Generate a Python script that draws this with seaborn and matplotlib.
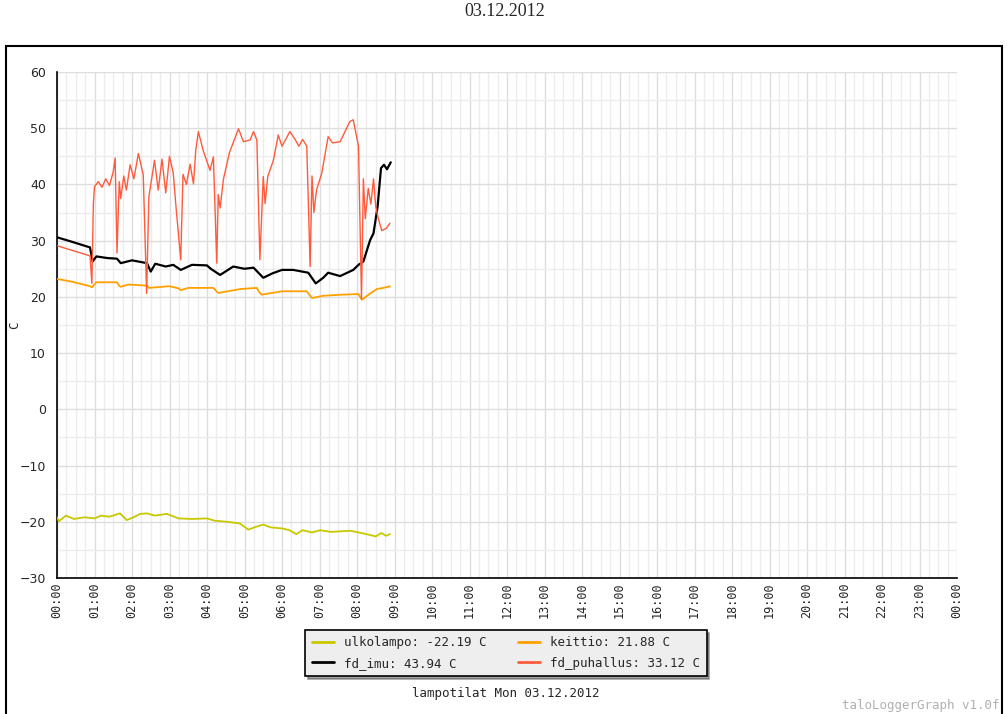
import numpy as np
import pandas as pd
import seaborn as sns
import matplotlib.pyplot as plt
from matplotlib.lines import Line2D
from matplotlib.patches import Rectangle
from matplotlib.ticker import MultipleLocator, FixedLocator

# Data (tunnit 0-24, lampotila C), luettu kuvasta
ulko_h = [0.0, 0.05, 0.24, 0.45, 0.73, 1.0, 1.18, 1.4, 1.68, 1.86, 2.04, 2.22, 2.4, 2.6,
          2.93, 3.24, 3.6, 4.0, 4.2, 4.53, 4.88, 5.1, 5.3, 5.5, 5.7, 6.02, 6.2, 6.38,
          6.55, 6.8, 7.02, 7.3, 7.55, 7.82, 8.05, 8.25, 8.5, 8.65, 8.78, 8.88]
ulko_t = [-19.2, -19.9, -18.9, -19.5, -19.2, -19.4, -18.9, -19.1, -18.5, -19.7, -19.2, -18.6,
          -18.5, -18.9, -18.6, -19.4, -19.5, -19.4, -19.8, -20.0, -20.3, -21.4, -20.9,
          -20.5, -21.0, -21.2, -21.5, -22.2, -21.5, -21.9, -21.5, -21.8, -21.7, -21.6,
          -21.9, -22.2, -22.6, -22.0, -22.5, -22.19]

keittio_h = [0.0, 0.4, 0.88, 0.93, 1.05, 1.6, 1.65, 1.7, 1.9, 2.4, 2.45, 3.0, 3.25, 3.3, 3.5,
             4.17, 4.25, 4.3, 4.9, 5.33, 5.4, 5.46, 6.0, 6.66, 6.75, 6.8, 7.1, 7.6, 8.04,
             8.13, 8.35, 8.53, 8.7, 8.88]
keittio_t = [23.2, 22.7, 21.9, 21.7, 22.6, 22.6, 22.0, 21.8, 22.2, 22.0, 21.6, 21.9, 21.5,
             21.2, 21.6, 21.6, 21.0, 20.7, 21.4, 21.6, 20.8, 20.4, 21.0, 21.0, 20.2, 19.8,
             20.2, 20.4, 20.5, 19.5, 20.6, 21.4, 21.6, 21.88]

imu_h = [0.0, 0.4, 0.88, 0.95, 1.05, 1.35, 1.6, 1.7, 2.0, 2.4, 2.5, 2.62, 2.9, 3.1, 3.3,
         3.6, 4.0, 4.1, 4.35, 4.7, 5.0, 5.24, 5.5, 5.75, 6.0, 6.3, 6.7, 6.9, 7.1, 7.23, 7.55,
         7.9, 8.04, 8.17, 8.35, 8.44, 8.55, 8.64, 8.72, 8.8, 8.9]
imu_t = [30.6, 29.8, 28.8, 26.3, 27.2, 26.9, 26.8, 26.0, 26.5, 26.0, 24.5, 25.9, 25.4, 25.7,
         24.8, 25.7, 25.6, 25.0, 23.9, 25.4, 25.0, 25.2, 23.4, 24.2, 24.8, 24.8, 24.3, 22.4,
         23.4, 24.3, 23.7, 24.8, 25.7, 26.3, 30.1, 31.3, 36.1, 42.9, 43.5, 42.7, 43.94]

puh_h = [0.0, 0.88, 0.93, 0.97, 1.0, 1.1, 1.2, 1.3, 1.4, 1.5, 1.55, 1.6, 1.66, 1.7, 1.78,
         1.85, 1.95, 2.05, 2.17, 2.3, 2.39, 2.45, 2.6, 2.7, 2.8, 2.9, 3.0, 3.1, 3.18, 3.3,
         3.36, 3.45, 3.55, 3.64, 3.7, 3.77, 3.9, 4.08, 4.17, 4.26, 4.3, 4.35, 4.44, 4.6,
         4.84, 4.97, 5.15, 5.24, 5.33, 5.41, 5.5, 5.55, 5.62, 5.77, 5.9, 6.0, 6.21, 6.35,
         6.45, 6.55, 6.66, 6.75, 6.8, 6.85, 6.92, 7.06, 7.23, 7.35, 7.55, 7.81, 7.9, 8.04,
         8.12, 8.17, 8.22, 8.3, 8.37, 8.44, 8.5, 8.57, 8.66, 8.78, 8.88]
puh_t = [29.1, 27.3, 22.4, 36.6, 39.6, 40.5, 39.5, 41.0, 39.8, 42.3, 44.7, 27.8, 40.5, 37.5,
         41.5, 39.0, 43.5, 41.0, 45.5, 41.7, 20.6, 37.8, 44.3, 39.0, 44.5, 38.5, 45.0, 42.0,
         35.5, 26.6, 41.8, 40.0, 43.6, 40.1, 46.1, 49.4, 46.0, 42.5, 44.9, 26.0, 38.2, 35.8,
         41.0, 45.7, 49.9, 47.6, 47.9, 49.4, 47.9, 26.6, 41.4, 36.6, 41.4, 44.3, 48.8, 46.8,
         49.4, 48.0, 46.8, 48.0, 46.8, 25.4, 41.5, 35.0, 39.0, 42.0, 48.5, 47.4, 47.6, 51.2,
         51.5, 46.8, 19.6, 41.0, 33.9, 39.3, 36.5, 41.0, 36.0, 33.9, 31.8, 32.2, 33.12]

names = ['ulkolampo', 'keittio', 'fd_imu', 'fd_puhallus']
colors = ['#c8c800', '#ffa000', '#000000', '#ff5a3c']
widths = [1.3, 1.3, 1.6, 1.0]
last_vals = ['-22.19', '21.88', '43.94', '33.12']

x_ticks = list(range(0, 25))
x_labels = ['%02d:00' % (h % 24) for h in x_ticks]

fig = plt.figure(figsize=(10.08, 7.14), dpi=100)
sns.set_style('white')
ax = fig.add_axes([57 / 1008, 1 - 578 / 714, 900 / 1008, 506 / 714])

series = [(ulko_h, ulko_t), (keittio_h, keittio_t), (imu_h, imu_t), (puh_h, puh_t)]
for (hh, tt), nm, col, lw in zip(series, names, colors, widths):
    df = pd.DataFrame({'h': hh, 't': tt})
    sns.lineplot(data=df, x='h', y='t', color=col, linewidth=lw, ax=ax,
                 estimator=None, sort=False, zorder=3)

ax.set_xlim(0, 24)
ax.set_ylim(-30, 60)
ax.xaxis.set_major_locator(FixedLocator(x_ticks))
ax.xaxis.set_minor_locator(MultipleLocator(0.25))
ax.yaxis.set_major_locator(MultipleLocator(10))
ax.yaxis.set_minor_locator(MultipleLocator(5))
ax.set_xticklabels(x_labels, rotation=90, family='DejaVu Sans Mono', fontsize=8.5)
ax.tick_params(axis='y', labelsize=9, pad=8)
ax.tick_params(which='major', direction='in', length=6, width=1, color='black')
ax.tick_params(which='minor', direction='in', length=4, width=1, color='black')
ax.grid(which='major', color='#dddddd', linewidth=1)
ax.grid(which='minor', color='#ececec', linewidth=1)
ax.set_axisbelow(True)
for s in ['top', 'right']:
    ax.spines[s].set_visible(False)
for s in ['left', 'bottom']:
    ax.spines[s].set_color('black')
    ax.spines[s].set_linewidth(1.2)
ax.set_xlabel('')
ax.set_ylabel('')
fig.text(15 / 1008, 1 - 325 / 714, 'C', rotation=90, ha='center', va='center',
         family='DejaVu Sans Mono', fontsize=9)

# legenda
handles = [Line2D([], [], color=c, linewidth=2) for c in colors]
labels = ['%s: %s C' % (n, v) for n, v in zip(names, last_vals)]
order = [0, 2, 1, 3]
leg = fig.legend([handles[i] for i in order], [labels[i] for i in order], ncol=2,
                 loc='center', bbox_to_anchor=(506 / 1008, 1 - 653 / 714),
                 prop={'family': 'DejaVu Sans Mono', 'size': 9}, frameon=True,
                 fancybox=False, shadow=True, facecolor='#eeeeee', edgecolor='black',
                 framealpha=1, handlelength=1.8, columnspacing=2.5, borderpad=0.5,
                 labelspacing=0.6)
leg.get_frame().set_linewidth(1.2)

fig.text(506 / 1008, 1 - 693 / 714, 'lampotilat Mon 03.12.2012', ha='center', va='center',
         family='DejaVu Sans Mono', fontsize=9)
fig.text(1000 / 1008, 1 - 705 / 714, 'taloLoggerGraph v1.0f', ha='right', va='center',
         family='DejaVu Sans Mono', fontsize=9, color='#b0b0b0')
fig.text(505 / 1008, 1 - 12 / 714, '03.12.2012', ha='center', va='center',
         family='Liberation Serif', fontsize=13)

# kehys
fig.add_artist(Rectangle((6 / 1008, -0.01), 996 / 1008, (714 - 46) / 714 + 0.01,
                         transform=fig.transFigure, fill=False, edgecolor='black',
                         linewidth=1.5))

fig.savefig('out.png', dpi=100)
